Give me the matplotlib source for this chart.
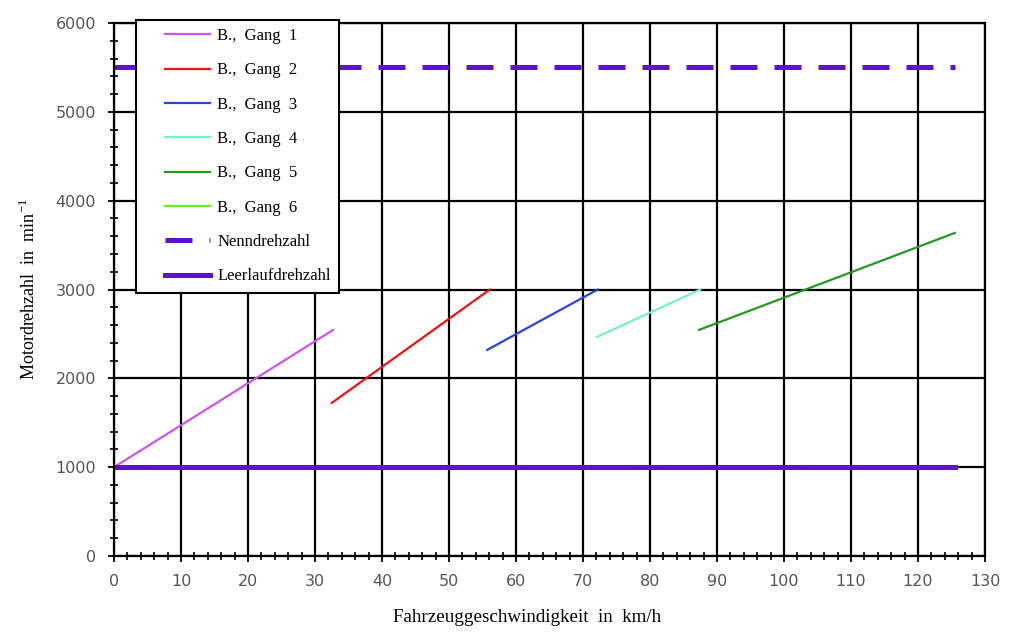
import matplotlib
matplotlib.use('Agg')
import matplotlib.pyplot as plt
from matplotlib.ticker import MultipleLocator
from matplotlib.legend_handler import HandlerLine2D

# speed (km/h) and engine speed (1/min) per gear, start and end points
gang1_v = [0.0, 32.7]
gang1_n = [1000, 2545]
gang2_v = [32.5, 56.1]
gang2_n = [1723, 3000]
gang3_v = [55.7, 72.2]
gang3_n = [2320, 3000]
gang4_v = [72.1, 87.5]
gang4_n = [2466, 3000]
gang5_v = [87.3, 125.5]
gang5_n = [2545, 3637]
gang6_v = []
gang6_n = []

nenn_v = [0.0, 125.5]
nenn_n = [5500, 5500]
leer_v = [0.0, 125.5]
leer_n = [1000, 1000]

labels = ['B.,  Gang  1', 'B.,  Gang  2', 'B.,  Gang  3', 'B.,  Gang  4',
          'B.,  Gang  5', 'B.,  Gang  6', 'Nenndrehzahl', 'Leerlaufdrehzahl']

plt.rcParams['mathtext.fontset'] = 'custom'
plt.rcParams['mathtext.rm'] = 'Liberation Serif'

fig = plt.figure(figsize=(10.14, 6.44), dpi=100)
ax = fig.add_axes([0.1124, 0.1366, 0.8590, 0.8277])

ax.plot(gang1_v, gang1_n, color='#cc55ee', lw=1.6, label=labels[0])
ax.plot(gang2_v, gang2_n, color='#ee1111', lw=1.6, label=labels[1])
ax.plot(gang3_v, gang3_n, color='#2a44dd', lw=1.6, label=labels[2])
ax.plot(gang4_v, gang4_n, color='#77eecc', lw=1.6, label=labels[3])
ax.plot(gang5_v, gang5_n, color='#229922', lw=1.6, label=labels[4])
ax.plot(gang6_v, gang6_n, color='#66ee22', lw=1.6, label=labels[5])
ax.plot(nenn_v, nenn_n, color='#6010d0', lw=3.6, dashes=(5.4, 3.4), label=labels[6])
ax.plot(leer_v, leer_n, color='#6010d0', lw=3.6, label=labels[7])

ax.set_xlim(0, 130)
ax.set_ylim(0, 6000)
ax.xaxis.set_major_locator(MultipleLocator(10))
ax.xaxis.set_minor_locator(MultipleLocator(2))
ax.yaxis.set_major_locator(MultipleLocator(1000))
ax.yaxis.set_minor_locator(MultipleLocator(200))
ax.grid(True, which='major', color='black', lw=1.6)
ax.set_axisbelow(True)
for s in ax.spines.values():
    s.set_linewidth(1.6)
ax.tick_params(which='major', direction='inout', length=8, width=1.3,
               labelsize=11.5, labelcolor='#555555', pad=9)
ax.tick_params(which='minor', direction='inout', length=6, width=1.2)
for t in ax.get_xticklabels() + ax.get_yticklabels():
    t.set_fontfamily('DejaVu Sans')

ax.set_xlabel('Fahrzeuggeschwindigkeit  in  km/h', family='Liberation Serif',
              fontsize=13.7)
ax.xaxis.set_label_coords(0.474, -0.100)
ax.set_ylabel(r'Motordrehzahl  in  min$^{-1}$', family='Liberation Serif',
              fontsize=13, labelpad=12)

leg = ax.legend(loc='upper left', bbox_to_anchor=(0.025, 1.006), borderaxespad=0,
                prop={'family': 'Liberation Serif', 'size': 12},
                fancybox=False, framealpha=1, edgecolor='black',
                handlelength=3.95, handletextpad=0.45, labelspacing=1.1,
                borderpad=0.5,
                handler_map={plt.Line2D: HandlerLine2D(xpad=1.26)})
leg.get_frame().set_linewidth(1.5)

fig.savefig('out.png', dpi=100)
